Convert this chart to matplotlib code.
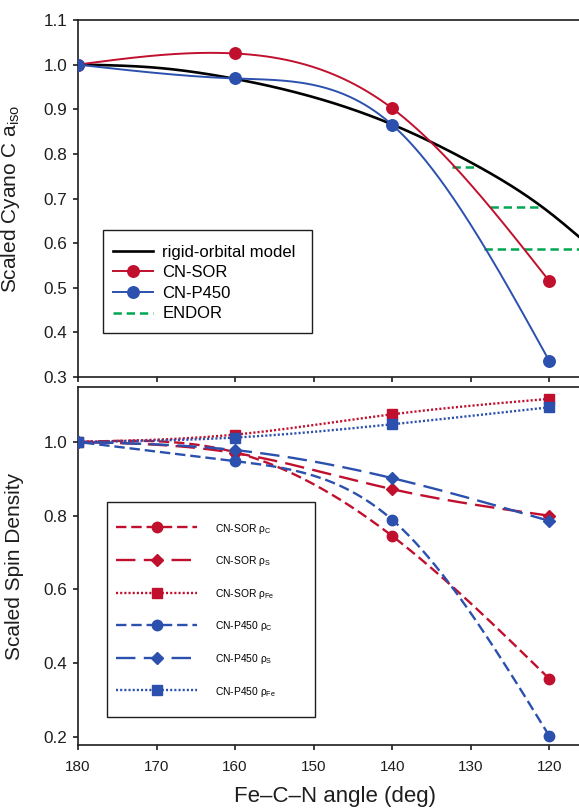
import numpy as np
import matplotlib
matplotlib.use("Agg")
import matplotlib.pyplot as plt
from matplotlib.patches import Rectangle

plt.rcParams['font.family'] = ['Liberation Sans', 'DejaVu Sans']
plt.rcParams['mathtext.fontset'] = 'custom'
plt.rcParams['mathtext.rm'] = 'Liberation Sans'
plt.rcParams['mathtext.it'] = 'Liberation Sans:italic'
plt.rcParams['lines.scale_dashes'] = False

# ---------------- data ----------------
angles = [180, 160, 140, 120]

# top panel: scaled cyano C a_iso
sor_aiso = [1.0, 1.025, 0.902, 0.515]
p450_aiso = [1.0, 0.969, 0.865, 0.336]

rigid_x = [180, 170, 160, 150, 140, 130, 120, 116]
rigid_y = [1.0, 0.993, 0.968, 0.927, 0.866, 0.781, 0.669, 0.611]

endor_y = [0.770, 0.681, 0.586]
endor_x0 = [132.4, 127.5, 128.3]
endor_x1 = [129.0, 120.9, 116.0]

# bottom panel: scaled spin densities
sor_rhoC = [1.0, 0.972, 0.745, 0.358]
sor_rhoS = [1.0, 0.970, 0.872, 0.800]
sor_rhoFe = [1.0, 1.020, 1.075, 1.117]
p450_rhoC = [1.0, 0.948, 0.789, 0.203]
p450_rhoS = [1.0, 0.978, 0.902, 0.786]
p450_rhoFe = [1.0, 1.012, 1.048, 1.094]

xticks = [180, 170, 160, 150, 140, 130, 120]
top_yticks = [0.3, 0.4, 0.5, 0.6, 0.7, 0.8, 0.9, 1.0, 1.1]
bot_yticks = [0.2, 0.4, 0.6, 0.8, 1.0]

RED = '#C0102E'
BLUE = '#2B50AE'
GREEN = '#00A651'
INK = '#1E1E1E'


def smooth(xs, ys, n=300):
    """Natural cubic spline, used only to draw the smooth connecting curves."""
    xs = np.asarray(xs, float)
    ys = np.asarray(ys, float)
    order = np.argsort(xs)
    xs, ys = xs[order], ys[order]
    m = len(xs)
    h = np.diff(xs)
    A = np.zeros((m, m))
    b = np.zeros(m)
    A[0, 0] = 1
    A[-1, -1] = 1
    for i in range(1, m - 1):
        A[i, i - 1] = h[i - 1]
        A[i, i] = 2 * (h[i - 1] + h[i])
        A[i, i + 1] = h[i]
        b[i] = 3 * ((ys[i + 1] - ys[i]) / h[i] - (ys[i] - ys[i - 1]) / h[i - 1])
    c = np.linalg.solve(A, b)
    xx = np.linspace(xs[0], xs[-1], n)
    idx = np.clip(np.searchsorted(xs, xx, side='right') - 1, 0, m - 2)
    dx = xx - xs[idx]
    bi = (ys[idx + 1] - ys[idx]) / h[idx] - h[idx] * (2 * c[idx] + c[idx + 1]) / 3
    di = (c[idx + 1] - c[idx]) / (3 * h[idx])
    yy = ys[idx] + bi * dx + c[idx] * dx ** 2 + di * dx ** 3
    return xx, yy


W, H = 579, 808
fig = plt.figure(figsize=(W / 100, H / 100), dpi=100)

xl, xr = 78, 579
T1, B1 = 20, 377
T2, B2 = 387, 745
ax1 = fig.add_axes([xl / W, 1 - B1 / H, (xr - xl) / W, (B1 - T1) / H])
ax2 = fig.add_axes([xl / W, 1 - B2 / H, (xr - xl) / W, (B2 - T2) / H])


def ax_xy(px, py, top, bot):
    """pixel position in the figure -> axes fraction."""
    return (px - xl) / (xr - xl), (bot - py) / (bot - top)


XMAX = 180
XMIN = 120 - (579 - 549.3) / 7.85

for ax in (ax1, ax2):
    ax.set_xlim(XMAX, XMIN)
    ax.spines['right'].set_visible(False)
    for s in ax.spines.values():
        s.set_linewidth(1.2)
        s.set_color(INK)
    ax.tick_params(direction='out', length=3.8, width=1.2, colors=INK, labelcolor=INK)
    ax.tick_params(axis='y', labelsize=12.3, pad=4)
    ax.tick_params(axis='x', labelsize=11, pad=7)
    ax.set_xticks(xticks)

# ---------- top panel ----------
ax1.set_ylim(0.3, 1.1)
ax1.set_yticks(top_yticks)
ax1.set_yticklabels([f'{v:.1f}' for v in top_yticks])
ax1.tick_params(axis='x', labelbottom=False)

rx, ry = smooth(rigid_x, rigid_y)
ax1.plot(rx, ry, color='black', lw=1.9, label='rigid-orbital model', zorder=3)

sx, sy = smooth(angles, sor_aiso)
ax1.plot(sx, sy, color=RED, lw=1.4, zorder=4)
ax1.plot(angles, sor_aiso, 'o', color=RED, ms=8.3, zorder=5)
ax1.plot([], [], '-o', color=RED, lw=1.4, ms=8.3, label='CN-SOR')

px, py = smooth(angles, p450_aiso)
ax1.plot(px, py, color=BLUE, lw=1.4, zorder=4)
ax1.plot(angles, p450_aiso, 'o', color=BLUE, ms=8.3, zorder=5)
ax1.plot([], [], '-o', color=BLUE, lw=1.4, ms=8.3, label='CN-P450')

for yv, a0, a1 in zip(endor_y, endor_x0, endor_x1):
    ax1.plot([a0, a1], [yv, yv], color=GREEN, lw=1.8, ls=(0, (6, 3.5)), zorder=2)
ax1.plot([], [], color=GREEN, lw=1.8, ls=(0, (6, 3.5)), label='ENDOR')

# legend frame (box) and entries
fx0, fy0 = ax_xy(103, 333, T1, B1)
fx1, fy1 = ax_xy(312, 230, T1, B1)
ax1.add_patch(Rectangle((fx0, fy0), fx1 - fx0, fy1 - fy0, transform=ax1.transAxes,
                        facecolor='white', edgecolor=INK, lw=1.0, zorder=20))
leg1 = ax1.legend(loc='upper left', bbox_to_anchor=ax_xy(113, 244.5, T1, B1),
                  borderaxespad=0, borderpad=0, fontsize=12, frameon=False,
                  handlelength=2.4, handletextpad=0.55, labelspacing=0.34, numpoints=1)
leg1.set_zorder(21)

ax1.set_ylabel('Scaled Cyano C a$_{\\mathrm{iso}}$', fontsize=15, color=INK)
ax1.yaxis.set_label_coords(-0.112, 0.5)

# ---------- bottom panel ----------
ax2.set_ylim(0.2 - 8 / 369, 1.0 + 55 / 369)
ax2.set_yticks(bot_yticks)
ax2.set_yticklabels([f'{v:.1f}' for v in bot_yticks])
ax2.set_xticklabels([str(v) for v in xticks])

series = [
    (sor_rhoC, RED, 'o', 7.5, (0, (7.5, 3.5)), 'CN-SOR ρ$_{\\mathrm{C}}$'),
    (sor_rhoS, RED, 'D', 6.5, (0, (14, 6)), 'CN-SOR ρ$_{\\mathrm{S}}$'),
    (sor_rhoFe, RED, 's', 7.0, (0, (1.5, 1.5)), 'CN-SOR ρ$_{\\mathrm{Fe}}$'),
    (p450_rhoC, BLUE, 'o', 7.5, (0, (7.5, 3.5)), 'CN-P450 ρ$_{\\mathrm{C}}$'),
    (p450_rhoS, BLUE, 'D', 6.5, (0, (14, 6)), 'CN-P450 ρ$_{\\mathrm{S}}$'),
    (p450_rhoFe, BLUE, 's', 7.0, (0, (1.5, 1.5)), 'CN-P450 ρ$_{\\mathrm{Fe}}$'),
]
for k, (vals, col, mk, ms, ls, lab) in enumerate(series):
    xx, yy = smooth(angles, vals)
    ax2.plot(xx, yy, color=col, lw=1.7, ls=ls, zorder=3 + k)
    ax2.plot(angles, vals, mk, color=col, ms=ms, zorder=10 + k)
    ax2.plot([], [], color=col, lw=1.7, ls=ls, marker=mk, ms=ms, label=lab)

gx0, gy0 = ax_xy(107, 717, T2, B2)
gx1, gy1 = ax_xy(315, 502, T2, B2)
ax2.add_patch(Rectangle((gx0, gy0), gx1 - gx0, gy1 - gy0, transform=ax2.transAxes,
                        facecolor='white', edgecolor=INK, lw=1.0, zorder=20))
leg2 = ax2.legend(loc='upper left', bbox_to_anchor=ax_xy(116, 521.5, T2, B2),
                  borderaxespad=0, borderpad=0, fontsize=7.4, frameon=False,
                  handlelength=7.9, handleheight=1.0, handletextpad=1.75,
                  labelspacing=1.81, numpoints=1)
leg2.set_zorder(21)

ax2.set_ylabel('Scaled Spin Density', fontsize=15, color=INK)
ax2.yaxis.set_label_coords(-0.107, 0.5)
ax2.set_xlabel('Fe–C–N angle (deg)', fontsize=16, color=INK)
ax2.xaxis.set_label_coords((335 - xl) / (xr - xl), -(786 - 745) / 358)

fig.savefig('out.png', dpi=100)
